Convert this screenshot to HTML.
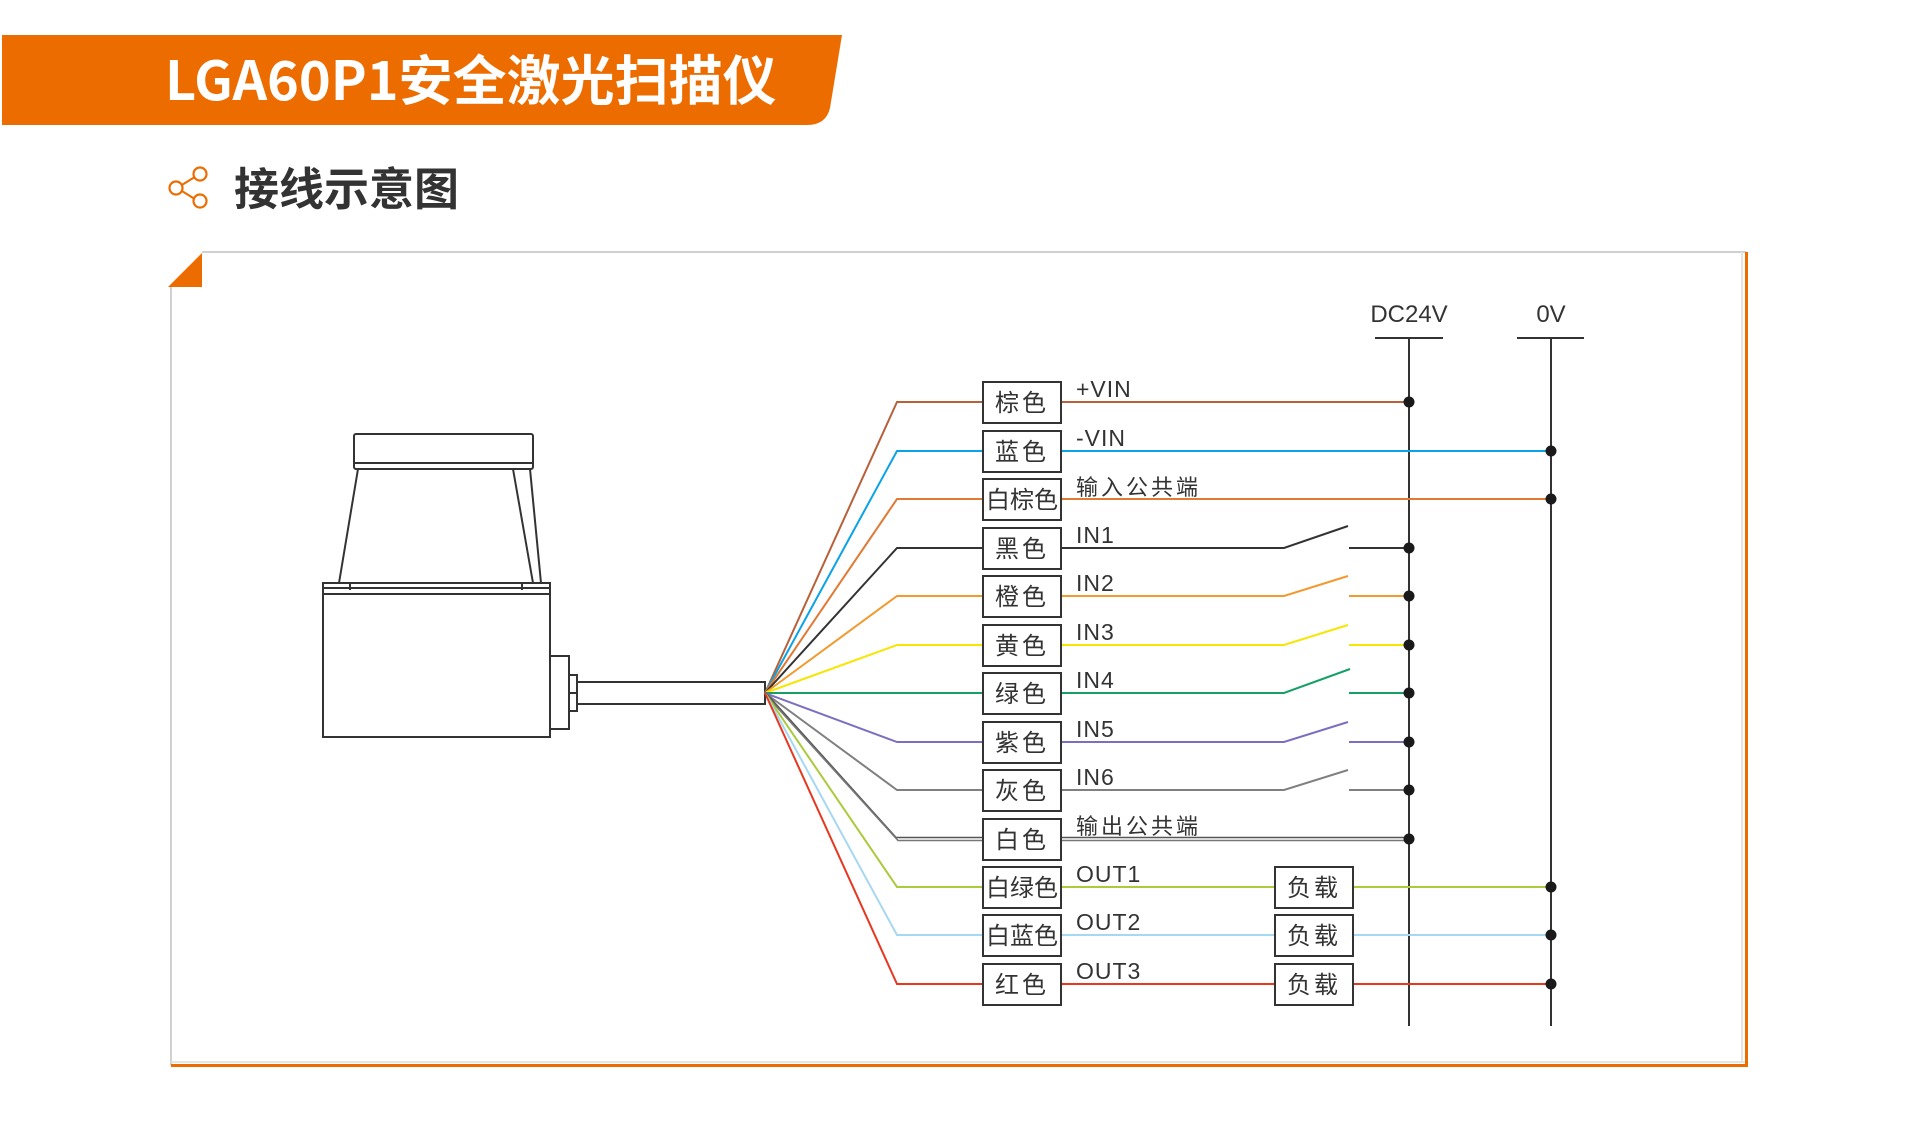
<!DOCTYPE html>
<html><head><meta charset="utf-8"><style>
html,body{margin:0;padding:0;background:#fff;}
svg{display:block;}
</style></head><body>
<svg width="1920" height="1128" viewBox="0 0 1920 1128" xmlns="http://www.w3.org/2000/svg" font-family="'Liberation Sans','Noto Sans CJK SC',sans-serif">
<rect width="1920" height="1128" fill="#fff"/>
<!-- header -->
<path d="M2,35 L842,35 L830,108 Q826,125 807,125 L2,125 Z" fill="#ec6c00"/>
<text x="165" y="100" font-size="54" font-weight="bold" fill="#fff" font-family="'Noto Sans CJK SC',sans-serif">LGA60P1安全激光扫描仪</text>
<!-- share icon -->
<g stroke="#ec6c00" stroke-width="2.2" fill="#fff">
<line x1="177" y1="188" x2="198" y2="175"/><line x1="177" y1="188" x2="198" y2="201"/>
<circle cx="176" cy="188" r="6.5"/><circle cx="200" cy="174" r="6.5"/><circle cx="200" cy="201" r="6.5"/>
</g>
<text x="234" y="205" font-size="45" font-weight="bold" fill="#333" font-family="'Noto Sans CJK SC',sans-serif">接线示意图</text>
<!-- card -->
<line x1="202" y1="252" x2="1746" y2="252" stroke="#d0d0d0" stroke-width="2"/>
<line x1="171" y1="287" x2="171" y2="1065" stroke="#d0d0d0" stroke-width="2"/>
<line x1="1742" y1="252" x2="1742" y2="1062" stroke="#e4e4e4" stroke-width="2"/>
<line x1="171" y1="1062" x2="1746" y2="1062" stroke="#e4e4e4" stroke-width="2"/>
<line x1="1746.5" y1="252" x2="1746.5" y2="1066" stroke="#ec6c00" stroke-width="3"/>
<line x1="171" y1="1065.5" x2="1748" y2="1065.5" stroke="#ec6c00" stroke-width="3"/>
<path d="M168,287 L202,253 L202,287 Z" fill="#ec6c00"/>
<!-- scanner -->
<g fill="none" stroke="#333" stroke-width="2">
<rect x="354" y="434" width="179" height="35" rx="2"/>
<line x1="354" y1="463" x2="533" y2="463"/>
<line x1="358" y1="469" x2="339" y2="583"/>
<line x1="513" y1="469" x2="533" y2="583"/>
<line x1="530" y1="469" x2="541" y2="583"/>
<rect x="323" y="583" width="227" height="154"/>
<line x1="323" y1="588" x2="550" y2="588"/>
<line x1="323" y1="594" x2="550" y2="594"/>
<line x1="350" y1="584" x2="350" y2="590"/><line x1="522" y1="584" x2="522" y2="590"/>
<rect x="550" y="656" width="19" height="73"/>
<rect x="569" y="675" width="8" height="36"/>
<line x1="569" y1="693" x2="577" y2="693"/>
<rect x="577" y="682" width="188" height="22"/>
</g>
<!-- power rails -->
<g stroke="#333" stroke-width="2">
<line x1="1375" y1="338" x2="1443" y2="338"/>
<line x1="1409" y1="338" x2="1409" y2="1026"/>
<line x1="1517" y1="338" x2="1584" y2="338"/>
<line x1="1551" y1="338" x2="1551" y2="1026"/>
</g>
<text x="1409" y="322" font-size="24" fill="#333" text-anchor="middle">DC24V</text>
<text x="1551" y="322" font-size="24" fill="#333" text-anchor="middle">0V</text>
<!-- wires -->
<g fill="none" stroke-width="2">
<polyline points="765,693 897,402 1409,402" stroke="#b8603a"/>
<polyline points="765,693 897,451 1551,451" stroke="#0aa3e6"/>
<polyline points="765,693 897,499 1551,499" stroke="#e07a35"/>
<polyline points="765,693 897,548 1284,548 1348,526" stroke="#333"/><line x1="1349" y1="548" x2="1409" y2="548" stroke="#333"/>
<polyline points="765,693 897,596 1284,596 1348,576" stroke="#f29a2e"/><line x1="1349" y1="596" x2="1409" y2="596" stroke="#f29a2e"/>
<polyline points="765,693 897,645 1284,645 1348,625" stroke="#f6e600"/><line x1="1349" y1="645" x2="1409" y2="645" stroke="#f6e600"/>
<polyline points="765,693 897,693 1284,693 1350,669" stroke="#17a065"/><line x1="1349" y1="693" x2="1409" y2="693" stroke="#17a065"/>
<polyline points="765,693 897,742 1284,742 1348,722" stroke="#7a6fc0"/><line x1="1349" y1="742" x2="1409" y2="742" stroke="#7a6fc0"/>
<polyline points="765,693 897,790 1284,790 1348,770" stroke="#808080"/><line x1="1349" y1="790" x2="1409" y2="790" stroke="#808080"/>
<polyline points="765,692 896,837.5 1409,837.5" stroke="#555" stroke-width="1.6"/>
<polyline points="765,694 898,840.5 1409,840.5" stroke="#777" stroke-width="1.6"/>
<polyline points="765,693 897,887 1551,887" stroke="#aacb3c"/>
<polyline points="765,693 897,935 1551,935" stroke="#a6d8f2"/>
<polyline points="765,693 897,984 1551,984" stroke="#e8361f"/>
</g>
<!-- dots -->
<g fill="#1a1a1a">
<circle cx="1409" cy="402" r="5.5"/><circle cx="1551" cy="451" r="5.5"/><circle cx="1551" cy="499" r="5.5"/>
<circle cx="1409" cy="548" r="5.5"/><circle cx="1409" cy="596" r="5.5"/><circle cx="1409" cy="645" r="5.5"/>
<circle cx="1409" cy="693" r="5.5"/><circle cx="1409" cy="742" r="5.5"/><circle cx="1409" cy="790" r="5.5"/>
<circle cx="1409" cy="839" r="5.5"/><circle cx="1551" cy="887" r="5.5"/><circle cx="1551" cy="935" r="5.5"/><circle cx="1551" cy="984" r="5.5"/>
</g>
<!-- color boxes -->
<g fill="#fff" stroke="#333" stroke-width="2">
<rect x="983" y="382" width="78" height="41"/><rect x="983" y="431" width="78" height="41"/><rect x="983" y="479" width="78" height="41"/>
<rect x="983" y="528" width="78" height="41"/><rect x="983" y="576" width="78" height="41"/><rect x="983" y="625" width="78" height="41"/>
<rect x="983" y="673" width="78" height="41"/><rect x="983" y="722" width="78" height="41"/><rect x="983" y="770" width="78" height="41"/>
<rect x="983" y="819" width="78" height="41"/><rect x="983" y="867" width="78" height="41"/><rect x="983" y="915" width="78" height="41"/><rect x="983" y="964" width="78" height="41"/>
<rect x="1275" y="867" width="78" height="41"/><rect x="1275" y="915" width="78" height="41"/><rect x="1275" y="964" width="78" height="41"/>
</g>
<g font-size="24" fill="#333" text-anchor="middle" font-family="'Noto Sans CJK SC',sans-serif">
<text x="1022" y="411" letter-spacing="3">棕色</text>
<text x="1022" y="460" letter-spacing="3">蓝色</text>
<text x="1022" y="508">白棕色</text>
<text x="1022" y="557" letter-spacing="3">黑色</text>
<text x="1022" y="605" letter-spacing="3">橙色</text>
<text x="1022" y="654" letter-spacing="3">黄色</text>
<text x="1022" y="702" letter-spacing="3">绿色</text>
<text x="1022" y="751" letter-spacing="3">紫色</text>
<text x="1022" y="799" letter-spacing="3">灰色</text>
<text x="1022" y="848" letter-spacing="3">白色</text>
<text x="1022" y="896">白绿色</text>
<text x="1022" y="944">白蓝色</text>
<text x="1022" y="993" letter-spacing="3">红色</text>
<text x="1314" y="896" letter-spacing="3">负载</text>
<text x="1314" y="944" letter-spacing="3">负载</text>
<text x="1314" y="993" letter-spacing="3">负载</text>
</g>
<g font-size="23" fill="#333" font-family="'Liberation Sans','Noto Sans CJK SC',sans-serif" letter-spacing="1">
<text x="1076" y="397">+VIN</text>
<text x="1076" y="446">-VIN</text>
<text x="1076" y="495" font-size="22" letter-spacing="3">输入公共端</text>
<text x="1076" y="543">IN1</text>
<text x="1076" y="591">IN2</text>
<text x="1076" y="640">IN3</text>
<text x="1076" y="688">IN4</text>
<text x="1076" y="737">IN5</text>
<text x="1076" y="785">IN6</text>
<text x="1076" y="834" font-size="22" letter-spacing="3">输出公共端</text>
<text x="1076" y="882">OUT1</text>
<text x="1076" y="930">OUT2</text>
<text x="1076" y="979">OUT3</text>
</g>
</svg>
</body></html>
